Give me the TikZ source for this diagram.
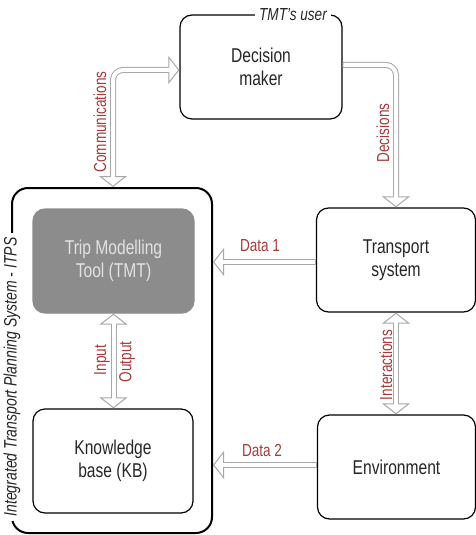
\documentclass[tikz,border=0pt]{standalone}
\usepackage{fontspec}
\setmainfont{Liberation Sans}[FakeStretch=0.78]
\usetikzlibrary{arrows.meta}
\definecolor{labelred}{HTML}{A83A3A}
\definecolor{pipegray}{HTML}{A8A8A8}
\definecolor{toolgray}{HTML}{8C8C8C}
\definecolor{tooltext}{HTML}{E2E2E2}
\definecolor{inktext}{HTML}{262626}

\begin{document}
\begin{tikzpicture}[x=0.5pt,y=-0.5pt,
  >={Triangle[open,fill=white,length=5.5pt,width=14pt,line width=0.5pt]},
  box/.style={draw=black, line width=0.6pt, rounded corners=6pt, align=center,
    inner sep=0pt, minimum height=52pt, text=inktext, font=\fontsize{10}{11.5}\selectfont},
  container/.style={draw=black, line width=1pt, rounded corners=8pt, inner sep=0pt},
  pipe/.style={draw=pipegray, line width=3pt},
  pipecore/.style={draw=white, line width=2pt},
  flowlabel/.style={text=labelred, inner sep=0pt, font=\fontsize{8.7}{10}\selectfont},
  tag/.style={fill=white, inner sep=2pt, text=inktext, font=\fontsize{8.7}{10}\itshape},
]
\useasboundingbox (0,0) rectangle (476,535);

% boxes
\node[box, minimum width=81pt] (dm) at (261,67) {Decision\\maker};
\node[container, minimum width=100pt, minimum height=172.5pt] (itps) at (112,360.5) {};
\node[box, minimum width=80.5pt, fill=toolgray, draw=toolgray, text=tooltext] (tmt) at (113.5,261) {Trip Modelling\\Tool (TMT)};
\node[box, minimum width=80pt] (kb) at (113,461) {Knowledge\\base (KB)};
\node[box, minimum width=79.5pt] (ts) at (396,260) {Transport\\system};
\node[box, minimum width=79pt] (env) at (396.5,467) {Environment};

% frame tags
\node[tag] (usertag) at (293,15) {TMT's user};
\node[tag, rotate=90, font=\fontsize{9}{10}\itshape] (itpstag) at (12,377) {Integrated Transport Planning System - ITPS};

% helper points
\coordinate (cbend) at (113,70);
\coordinate (dbend) at (396,65);
\path (ts.west) ++(0,2) coordinate (d1s);
\path (env.west) ++(0,-2) coordinate (d2s);

% connectors: grey outline first, white core on top
\draw[pipe, <->, rounded corners=5pt] (cbend -| dm.west) -- (cbend) -- (cbend |- itps.north);
\draw[pipecore, rounded corners=5pt, shorten <=3pt, shorten >=3pt] (cbend -| dm.west) -- (cbend) -- (cbend |- itps.north);

\draw[pipe, ->, rounded corners=5pt] (dbend -| dm.east) -- (dbend) -- (ts.north);
\draw[pipecore, rounded corners=5pt, shorten <=0.4pt, shorten >=3pt] (dbend -| dm.east) -- (dbend) -- (ts.north);

\draw[pipe, ->] (d1s) -- (d1s -| itps.east);
\draw[pipecore, shorten <=0.4pt, shorten >=3pt] (d1s) -- (d1s -| itps.east);

\draw[pipe, ->] (d2s) -- (d2s -| itps.east);
\draw[pipecore, shorten <=0.4pt, shorten >=3pt] (d2s) -- (d2s -| itps.east);

\draw[pipe, <->] (tmt.south) -- (tmt.south |- kb.north);
\draw[pipecore, shorten <=3pt, shorten >=3pt] (tmt.south) -- (tmt.south |- kb.north);

\draw[pipe, <->] (ts.south) -- (ts.south |- env.north);
\draw[pipecore, shorten <=3pt, shorten >=3pt] (ts.south) -- (ts.south |- env.north);

% connector labels
\node[flowlabel, rotate=90] (lcomm) at (100,122) {Communications};
\node[flowlabel, rotate=90] (ldec) at (383,133) {Decisions};
\node[flowlabel] (ld1) at (260,246) {Data 1};
\node[flowlabel] (ld2) at (262,451) {Data 2};
\node[flowlabel, rotate=90] (lin) at (102,360) {Input};
\node[flowlabel, rotate=90] (lout) at (127,362) {Output};
\node[flowlabel, rotate=90] (lint) at (386,365) {Interactions};
\end{tikzpicture}
\end{document}
